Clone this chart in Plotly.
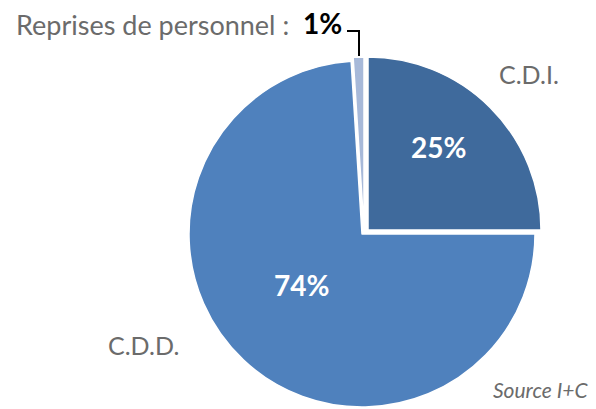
import plotly.graph_objects as go

categories = ["C.D.I.", "C.D.D.", "Reprises de personnel"]
values = [25, 74, 1]
colors = ["#3F6A9C", "#4F81BD", "#A7B9D9"]
source_text = "Source I+C"

W, H = 596, 409
R = 173
# pixel centres of each drawn layer (base pie, pulled C.D.I., pulled Reprises)
centres = [(362, 234), (368, 230), (364, 230)]
TRANSP = "rgba(0,0,0,0)"


def dom(cx, cy):
    return dict(x=[(cx - R) / W, (cx + R) / W],
                y=[1 - (cy + R) / H, 1 - (cy - R) / H])


def px(x, y, xa="center"):
    return dict(x=x / W, y=1 - y / H, xref="paper", yref="paper",
                xanchor=xa, yanchor="middle", showarrow=False)


fig = go.Figure()
for layer, idx in enumerate([1, 0, 2]):
    cx, cy = centres[layer]
    mc = [colors[i] if i == idx else TRANSP for i in range(len(values))]
    lw = [1.5 if i == idx else 0 for i in range(len(values))]
    fig.add_trace(go.Pie(
        labels=categories, values=values, sort=False, direction="clockwise",
        rotation=0, domain=dom(cx, cy),
        marker=dict(colors=mc, line=dict(color=["white"] * 3, width=lw)),
        textinfo="none", hoverinfo="skip", showlegend=False,
    ))

total = sum(values)
pct = [round(100 * v / total) for v in values]

gray = "#6B6B6B"
lab_font = dict(family="Lato", size=25, color=gray)
pct_font = dict(family="Lato", size=28, color="white", weight="bold")

fig.add_annotation(**px(529, 74), text=categories[0], font=lab_font)
fig.add_annotation(**px(143, 345), text=categories[1], font=lab_font)
fig.add_annotation(**px(291, 24, "right"), text=categories[2] + " :",
                   font=dict(family="Lato", size=27, color=gray))
fig.add_annotation(**px(301, 23, "left"), text="%d%%" % pct[2],
                   font=dict(family="Lato", size=28, color="black", weight="bold"))
fig.add_annotation(**px(438, 147), text="%d%%" % pct[0], font=pct_font)
fig.add_annotation(**px(301, 285), text="%d%%" % pct[1], font=pct_font)
fig.add_annotation(**px(591, 389, "right"), text="<i>" + source_text + "</i>",
                   font=dict(family="Lato", size=21, color=gray))
# leader line
fig.add_shape(type="path", xref="paper", yref="paper",
              path="M %f,%f L %f,%f L %f,%f" % (347 / W, 1 - 31 / H, 359 / W, 1 - 31 / H,
                                                 359 / W, 1 - 56 / H),
              line=dict(color="black", width=2))

fig.update_layout(width=W, height=H, margin=dict(l=0, r=0, t=0, b=0),
                  paper_bgcolor="white", plot_bgcolor="white")
fig.write_html("out.html", config={"displayModeBar": False},
               post_script="document.body.style.margin='0';document.body.style.overflow='hidden';")
